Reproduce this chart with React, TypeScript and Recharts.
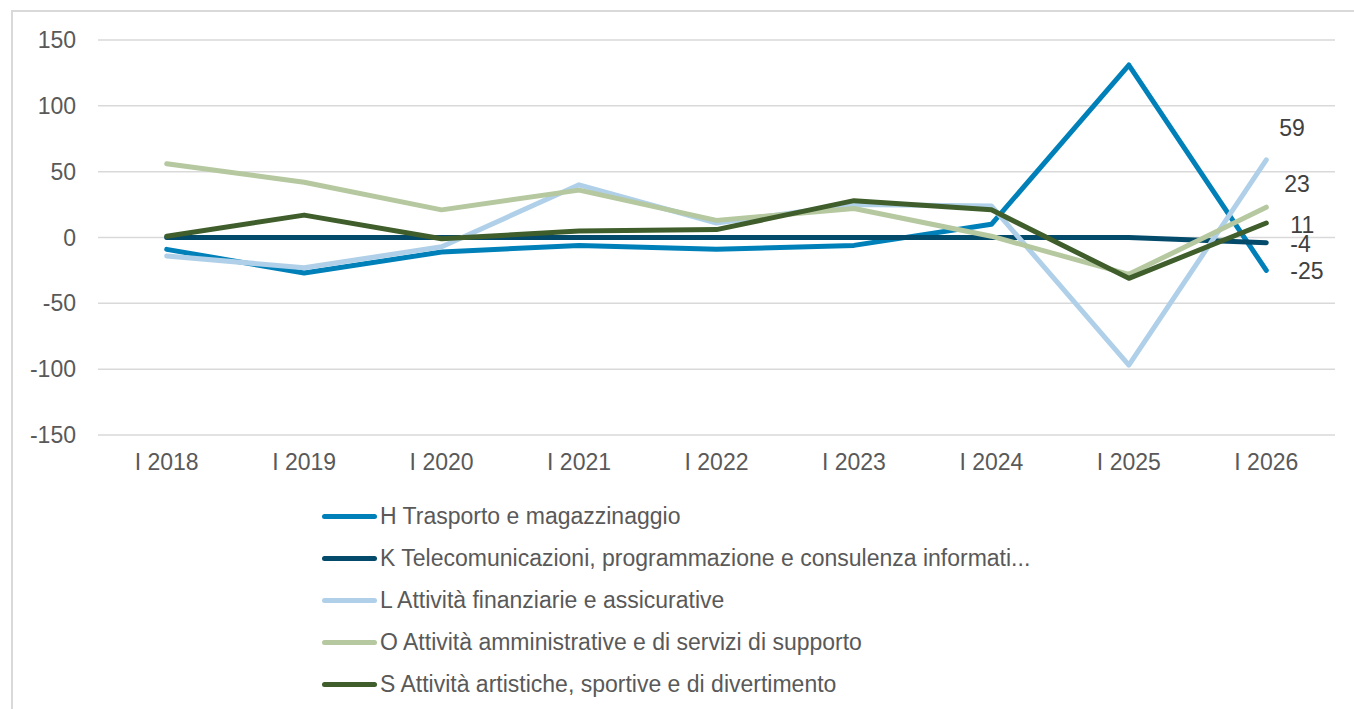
import { LineChart, Line, XAxis, YAxis, CartesianGrid, LabelList } from 'recharts'

const periods = ['I 2018', 'I 2019', 'I 2020', 'I 2021', 'I 2022', 'I 2023', 'I 2024', 'I 2025', 'I 2026']

const trasporto = [-9, -27, -11, -6, -9, -6, 10, 131, -25]
const telecom = [0, 0, 0, 0, 0, 0, 0, 0, -4]
const finanziarie = [-14, -23, -7, 40, 11, 25, 24, -97, 59]
const amministrative = [56, 42, 21, 36, 13, 22, 1, -28, 23]
const artistiche = [1, 17, -1, 5, 6, 28, 21, -31, 11]

const yTicks = [-150, -100, -50, 0, 50, 100, 150]

const seriesNames = [
  'H Trasporto e magazzinaggio',
  'K Telecomunicazioni, programmazione e consulenza informati...',
  'L Attività finanziarie e assicurative',
  'O Attività amministrative e di servizi di supporto',
  'S Attività artistiche, sportive e di divertimento',
]

const data = periods.map((p, i) => ({
  period: p,
  H: trasporto[i],
  K: telecom[i],
  L: finanziarie[i],
  O: amministrative[i],
  S: artistiche[i],
}))

// style per series: colour + where the end label sits relative to the last point
const series = [
  { key: 'H', color: '#0080b9', dx: 24, dy: 0 },
  { key: 'K', color: '#044a6b', dx: 24, dy: 1 },
  { key: 'L', color: '#afd0e8', dx: 13, dy: -32 },
  { key: 'O', color: '#b5c89f', dx: 18, dy: -23 },
  { key: 'S', color: '#3f5e2b', dx: 24, dy: 2 },
]

const FONT = 'Liberation Sans, Arial, sans-serif'

const endLabel = (dx: number, dy: number) => (props: any) => {
  const { x, y, value, index } = props
  if (index !== periods.length - 1) return null
  return (
    <text x={x + dx} y={y + dy} dy="0.355em" textAnchor="start" fill="#404040" fontSize={23} fontFamily={FONT}>
      {value}
    </text>
  )
}

export default function App() {
  return (
    <div style={{ position: 'absolute', left: 0, top: 0, width: 1354, height: 709, overflow: 'hidden', background: '#fff' }}>
      <div style={{ position: 'absolute', left: 11, top: 10, width: 1345, height: 700, borderLeft: '2px solid #d9d9d9', borderTop: '2px solid #d9d9d9' }} />
      <div style={{ position: 'absolute', left: 0, top: 0 }}>
        <LineChart width={1350} height={700} data={data} margin={{ top: 40, right: 15, bottom: 0, left: 0 }}>
          <CartesianGrid vertical={false} stroke="#d9d9d9" strokeWidth={1.5} />
          <XAxis
            dataKey="period"
            axisLine={false}
            tickLine={false}
            tickSize={0}
            tickMargin={19}
            height={265}
            padding={{ left: 68.7, right: 68.7 }}
            tick={{ fill: '#595959', fontSize: 23, fontFamily: FONT }}
            interval={0}
          />
          <YAxis
            domain={[-150, 150]}
            ticks={yTicks}
            axisLine={false}
            tickLine={false}
            tickSize={0}
            tickMargin={22}
            width={98}
            tick={{ fill: '#595959', fontSize: 23, fontFamily: FONT }}
          />
          {series.map(s => (
            <Line
              key={s.key}
              dataKey={s.key}
              stroke={s.color}
              strokeWidth={5}
              strokeLinecap="round"
              strokeLinejoin="round"
              dot={false}
              activeDot={false}
              isAnimationActive={false}
              type="linear"
            >
              <LabelList dataKey={s.key} content={endLabel(s.dx, s.dy)} />
            </Line>
          ))}
        </LineChart>
      </div>
      <div style={{ position: 'absolute', left: 322, top: 495, fontFamily: FONT, fontSize: 23, color: '#595959' }}>
        {series.map((s, i) => (
          <div key={s.key} style={{ display: 'flex', alignItems: 'center', height: 42 }}>
            <div style={{ width: 55, height: 5, borderRadius: 3, background: s.color, marginRight: 3 }} />
            <span style={{ whiteSpace: 'nowrap' }}>{seriesNames[i]}</span>
          </div>
        ))}
      </div>
    </div>
  )
}
